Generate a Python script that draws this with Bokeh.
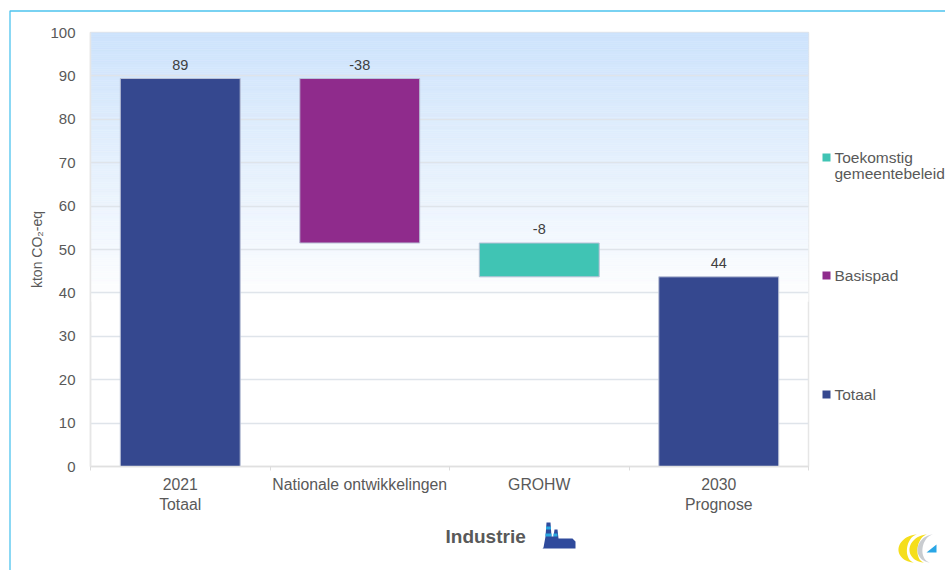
import numpy as np
from bokeh.embed import file_html
from bokeh.models import FixedTicker, ColumnDataSource, Range1d
from bokeh.plotting import figure
from bokeh.resources import INLINE
from bokeh.core.properties import value

# Emissions path for the industry sector (kton CO2-eq)
categories = ["2021\nTotaal", "Nationale ontwikkelingen", "GROHW", "2030\nPrognose"]
start_total = 89.4
national_change = -37.9
local_change = -7.8
end_total = 43.7
series_names = ["Toekomstig", "gemeentebeleid", "Basispad", "Totaal"]
y_ticks = [0, 10, 20, 30, 40, 50, 60, 70, 80, 90, 100]

FONT = "Liberation Sans"
TEXT = "#595959"
NAVY = "#35488f"
PURPLE = "#8f2b8c"
TEAL = "#40c4b4"
EDGE = "#b9c0d6"

p = figure(
    width=945, height=570, output_backend="svg", toolbar_location=None,
    x_range=Range1d(0, 4), y_range=Range1d(0, 100),
    min_border_left=90, min_border_right=137, min_border_top=32, min_border_bottom=104,
    background_fill_color="white", border_fill_color="white",
    outline_line_color="#e6e6e6", outline_line_width=1.5,
)

# Sky-like backdrop: pale blue at the top fading to white near 40, built from thin strips
strip_edges = np.linspace(38, 100, 125)
fade = np.clip((100 - strip_edges[:-1]) / 62, 0, 1)
strip_colours = ["#%02x%02x%02x" % (int(205 + 50 * f), int(227 + 28 * f), int(252 + 3 * f)) for f in fade]
p.quad(left=0, right=4, bottom=strip_edges[:-1], top=strip_edges[1:],
       fill_color=strip_colours, line_color=strip_colours, line_width=0.5, level="underlay")

# Waterfall segments
centers = [0.5, 1.5, 2.5, 3.5]
after_national = start_total + national_change
after_local = after_national + local_change
source_total = ColumnDataSource(dict(x=[centers[0], centers[3]], bottom=[0, 0], top=[start_total, end_total]))
source_base = ColumnDataSource(dict(x=[centers[1]], bottom=[after_national], top=[start_total]))
source_future = ColumnDataSource(dict(x=[centers[2]], bottom=[after_local], top=[after_national]))

bar_width = 0.668
p.vbar(x="x", bottom="bottom", top="top", width=bar_width, source=source_total,
       fill_color=NAVY, line_color=EDGE, line_width=1)
p.vbar(x="x", bottom="bottom", top="top", width=bar_width, source=source_base,
       fill_color=PURPLE, line_color=EDGE, line_width=1)
p.vbar(x="x", bottom="bottom", top="top", width=bar_width, source=source_future,
       fill_color=TEAL, line_color=EDGE, line_width=1)

# Value labels above each segment
label_values = [start_total, national_change, local_change, end_total]
label_tops = [start_total, start_total, after_national, end_total]
p.text(x=centers, y=label_tops, text=[f"{round(v)}" for v in label_values],
       text_font=value(FONT), text_font_size="14.5px", text_color="#404040",
       text_align="center", text_baseline="bottom", y_offset=-9)

# Axes
p.xgrid.visible = False
p.ygrid.ticker = FixedTicker(ticks=y_ticks[1:])
p.ygrid.grid_line_color = "#dfe4ea"
p.ygrid.grid_line_width = 1.5
p.ygrid.level = "underlay"

p.xaxis.ticker = FixedTicker(ticks=centers, minor_ticks=[0, 1, 2, 3, 4])
p.xaxis.major_label_overrides = dict(zip(centers, categories))
p.xaxis.major_tick_line_color = None
p.xaxis.minor_tick_line_color = "#dcdcdc"
p.xaxis.minor_tick_out = 4
p.xaxis.minor_tick_in = 0
p.xaxis.axis_line_color = "#e0e0e0"
p.xaxis.axis_line_width = 1.5
p.xaxis.major_label_text_font = FONT
p.xaxis.major_label_text_font_size = "15.8px"
p.xaxis.major_label_text_color = TEXT
p.xaxis.major_label_standoff = 3

p.yaxis.ticker = FixedTicker(ticks=y_ticks)
p.yaxis.major_tick_line_color = None
p.yaxis.minor_tick_line_color = None
p.yaxis.axis_line_color = "#e6e6e6"
p.yaxis.axis_line_width = 1.5
p.yaxis.major_label_text_font = FONT
p.yaxis.major_label_text_font_size = "15px"
p.yaxis.major_label_text_color = TEXT
p.yaxis.major_label_standoff = 9
p.yaxis.axis_label = "kton CO₂-eq"
p.yaxis.axis_label_text_font = FONT
p.yaxis.axis_label_text_font_size = "14px"
p.yaxis.axis_label_text_font_style = "normal"
p.yaxis.axis_label_text_color = TEXT
p.yaxis.axis_label_standoff = 2

# Transparent page-sized layer in pixel coordinates for the legend, caption and emblems
page = figure(
    width=945, height=570, output_backend="svg", toolbar_location=None,
    x_range=Range1d(0, 945), y_range=Range1d(570, 0),
    min_border=0, outline_line_color=None, x_axis_location=None, y_axis_location=None,
    background_fill_alpha=0, border_fill_alpha=0,
    styles={"position": "absolute", "left": "0px", "top": "0px"},
)
page.xgrid.visible = False
page.ygrid.visible = False

# Legend entries
page.rect(x=[826, 826, 826], y=[157, 275, 394], width=8, height=8,
          fill_color=[TEAL, PURPLE, NAVY], line_color=None)
page.text(x=[834, 834, 834, 834], y=[157, 173, 275, 394], text=series_names,
          text_font=value(FONT), text_font_size="15.5px", text_color=TEXT,
          text_baseline="middle")

# Sector caption
page.text(x=[445], y=[536], text=["Industrie"], text_font=value(FONT), text_font_size="19px",
          text_font_style="bold", text_color=TEXT, text_baseline="middle")

# Frame line around the slide, open at the right and bottom
page.line(x=[9.5, 9.5, 945], y=[570, 10.5, 10.5], line_color="#4dc3ee", line_width=1.3)

# Factory icon next to the caption
BLUE = "#2f4a9c"
CYAN = "#2aa7df"
page.patch(x=[543, 545, 546, 550, 551, 553, 554, 557, 558, 559, 572, 575, 575, 542],
           y=[547, 536, 522, 522, 536, 536, 529, 529, 538, 538, 538, 541, 548, 548], fill_color=BLUE, line_color=None)
page.patches(xs=[[545.5, 550.5, 550.5, 545.5], [545, 551, 551, 545], [553, 557, 557, 553]],
             ys=[[526, 526, 529, 529], [533, 533, 536, 536], [533, 533, 536, 536]], fill_color=CYAN, line_color=None)


# Logo in the corner: two yellow ribbons, a grey one and a blue triangle
def crescent(cx, top, bottom, rx, thick, skew):
    t = np.linspace(-np.pi / 2, np.pi / 2, 30)
    cy = (top + bottom) / 2
    ry = (bottom - top) / 2
    outer_x = cx - rx * np.cos(t) + skew * np.sin(t)
    inner_x = cx - (rx - thick) * np.cos(t) + skew * np.sin(t)
    y = cy + ry * np.sin(t)
    return np.r_[outer_x, inner_x[::-1]], np.r_[y, y[::-1]]


for cx, colour, rx, thick in ((916, "#f5de1c", 18, 8.5), (926, "#f5de1c", 17, 8.0), (932, "#c9ccd0", 15, 5.0)):
    xs, ys = crescent(cx, 534, 562, rx, thick, -1.5)
    page.patch(x=xs, y=ys, fill_color=colour, line_color=None)
page.patch(x=[926, 936, 936], y=[552, 544, 552], fill_color="#29a6e6", line_color=None)

open("out.html", "w").write(file_html([p, page], INLINE))
